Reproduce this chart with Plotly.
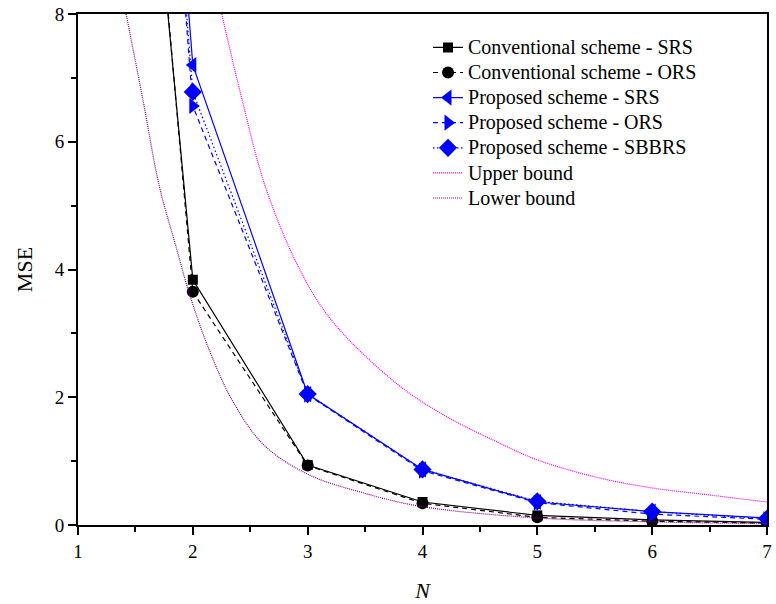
import plotly.graph_objects as go

N = [1, 2, 3, 4, 5, 6, 7]

conv_srs = [23.0, 3.84, 0.94, 0.36, 0.15, 0.08, 0.04]
conv_ors = [24.0, 3.65, 0.93, 0.34, 0.12, 0.06, 0.03]
prop_srs = [30.0, 7.20, 2.05, 0.87, 0.36, 0.21, 0.11]
prop_ors = [29.8, 6.56, 2.04, 0.85, 0.35, 0.17, 0.09]
prop_sbbrs = [29.4, 6.78, 2.05, 0.87, 0.37, 0.21, 0.10]

upper_N = [2.252, 2.43, 2.633, 2.92, 3.21, 3.785, 4.217, 4.65, 5.0, 5.51, 6.0, 6.5, 7.0]
upper_v = [8.0, 6.65, 5.29, 4.04, 3.2, 2.2, 1.69, 1.30, 1.02, 0.75, 0.58, 0.47, 0.36]

lower_N = [1.419, 1.566, 1.71, 1.855, 1.97, 2.143, 2.35, 2.62, 3.007, 3.47, 3.99, 5.0, 6.0, 7.0]
lower_v = [8.0, 6.65, 5.29, 4.35, 3.62, 2.74, 1.93, 1.25, 0.79, 0.51, 0.29, 0.11, 0.05, 0.02]

names = ["Conventional scheme - SRS", "Conventional scheme - ORS",
         "Proposed scheme - SRS", "Proposed scheme - ORS",
         "Proposed scheme - SBBRS", "Upper bound", "Lower bound"]

FONT = "Liberation Serif, Times New Roman, serif"
LEG = '<span style="font-size:20px">{}</span>'

fig = go.Figure()

fig.add_trace(go.Scatter(x=N, y=conv_srs, name=LEG.format(names[0]),
                         mode="lines+markers",
                         line=dict(color="black", width=1.2),
                         marker=dict(symbol="square", size=10, color="black")))
fig.add_trace(go.Scatter(x=N, y=conv_ors, name=LEG.format(names[1]),
                         mode="lines+markers",
                         line=dict(color="black", width=1.2, dash="5px,4px"),
                         marker=dict(symbol="circle", size=12, color="black")))
fig.add_trace(go.Scatter(x=N, y=prop_srs, name=LEG.format(names[2]),
                         mode="lines+markers",
                         line=dict(color="#0000FF", width=1.2),
                         marker=dict(symbol="triangle-left", size=14, color="#0000FF")))
fig.add_trace(go.Scatter(x=N, y=prop_ors, name=LEG.format(names[3]),
                         mode="lines+markers",
                         line=dict(color="#0000FF", width=1.2, dash="5px,4px"),
                         marker=dict(symbol="triangle-right", size=14, color="#0000FF")))
fig.add_trace(go.Scatter(x=N, y=prop_sbbrs, name=LEG.format(names[4]),
                         mode="lines+markers",
                         line=dict(color="#0000FF", width=1.2, dash="1.5px,2.5px"),
                         marker=dict(symbol="diamond", size=14, color="#0000FF")))
fig.add_trace(go.Scatter(x=upper_N, y=upper_v, name=LEG.format(names[5]),
                         mode="lines",
                         line=dict(color="#FF00FF", width=1.2, dash="1px,1px", shape="spline", smoothing=1.0)))
fig.add_trace(go.Scatter(x=lower_N, y=lower_v, name=LEG.format(names[6]),
                         mode="lines",
                         line=dict(color="#800080", width=1.2, dash="1px,1px", shape="spline", smoothing=1.0)))

axis_common = dict(
    showline=True, linecolor="black", linewidth=2, mirror=True,
    ticks="outside", ticklen=8, tickwidth=1.5, tickcolor="black",
    showgrid=False, zeroline=False,
    tickfont=dict(family=FONT, size=19, color="black"),
)

fig.update_xaxes(range=[1, 7], dtick=1, tick0=1,
                 minor=dict(ticks="outside", ticklen=5, tickwidth=1.5, tickcolor="black", dtick=0.5, tick0=1),
                 title=dict(text="<i>N</i>", font=dict(family=FONT, size=22, color="black"), standoff=22),
                 **axis_common)
fig.update_yaxes(range=[0, 8], dtick=2, tick0=0,
                 minor=dict(ticks="outside", ticklen=5, tickwidth=1.5, tickcolor="black", dtick=1, tick0=0),
                 title=dict(text="MSE", font=dict(family=FONT, size=22, color="black"), standoff=16),
                 **axis_common)

fig.update_layout(
    width=776, height=604,
    margin=dict(l=78, r=4, t=14, b=79),
    paper_bgcolor="white", plot_bgcolor="white",
    font=dict(family=FONT, color="black"),
    showlegend=True,
    legend=dict(x=0.508, y=0.969, xanchor="left", yanchor="top",
                bgcolor="rgba(0,0,0,0)", borderwidth=0,
                font=dict(family=FONT, size=17, color="black"),
                tracegroupgap=0, itemwidth=30),
)

fig.write_html("out.html")
